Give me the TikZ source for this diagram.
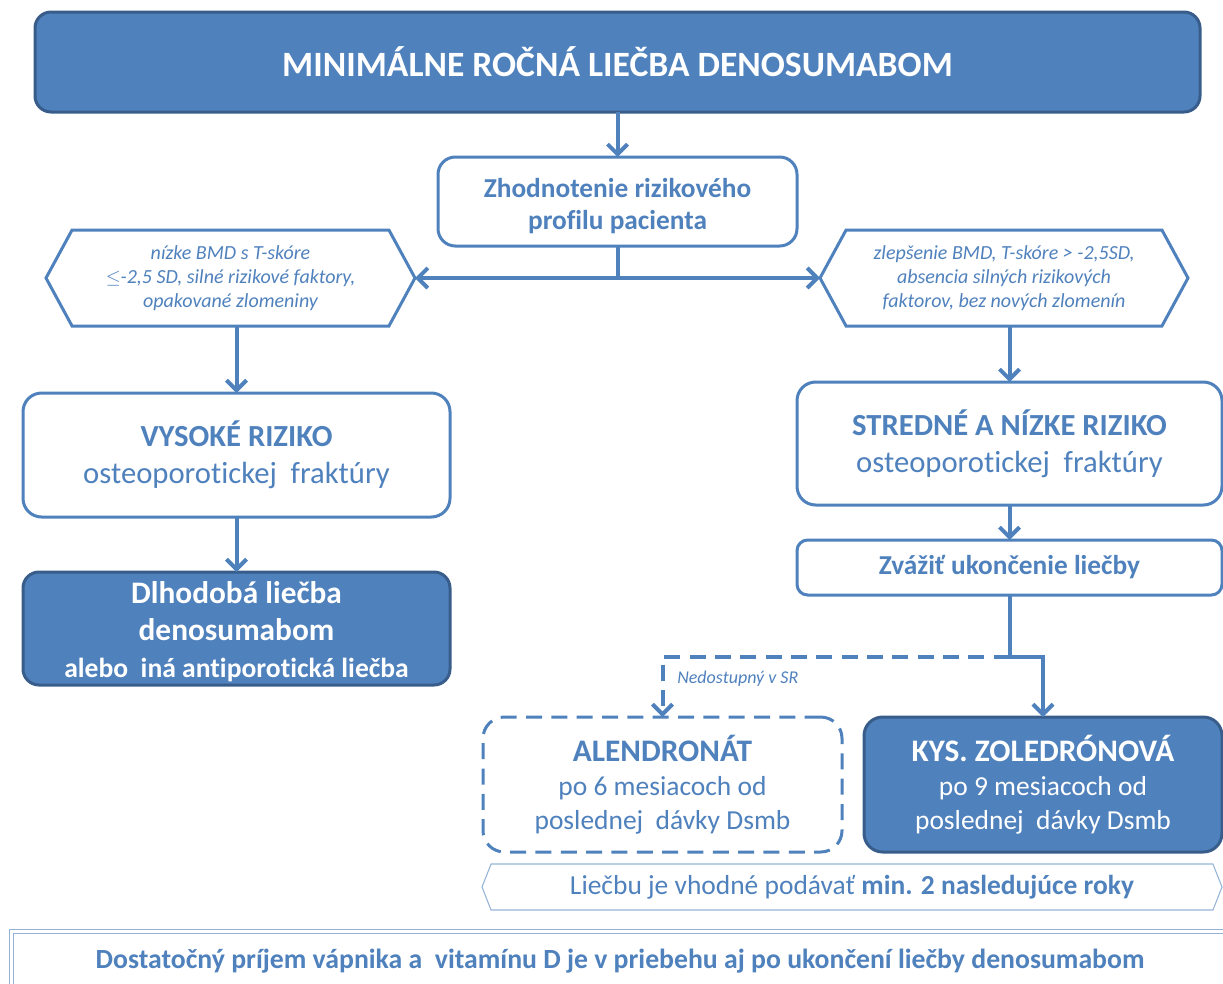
\documentclass[tikz,border=0pt]{standalone}
\usepackage{fontspec}
\setmainfont{Carlito}[Ligatures=NoCommon]
\usepackage{tikz}
\usetikzlibrary{arrows.meta,shapes.symbols,positioning}
\definecolor{rblue}{HTML}{4F81BD}
\definecolor{rdark}{HTML}{385D8A}
\definecolor{rlight}{HTML}{95B3D7}

\begin{document}
\begin{tikzpicture}[x=0.75pt, y=-0.75pt,
  filled/.style={draw=rdark, line width=2.25pt, fill=rblue, text=white, rounded corners=12pt, align=center, inner sep=0pt, outer sep=0pt},
  plain/.style={draw=rblue, line width=2.25pt, fill=white, text=rblue, rounded corners=13pt, align=center, inner sep=0pt, outer sep=0pt},
  hexa/.style={signal, signal to=west and east, draw=rblue, line width=2.25pt, text=rblue, align=center, inner sep=0pt, outer sep=0pt},
  flow/.style={draw=rblue, line width=3pt, -{Straight Barb[length=7.5pt,width=15pt]}},
  big/.style={font=\fontsize{23}{28}\selectfont},
  body/.style={font=\fontsize{20.6}{25.5}\selectfont}]
\useasboundingbox (0,0) rectangle (1223,983);
\clip (0,0) rectangle (1223,983);
\node[filled, minimum width=873.75pt, minimum height=75pt, font=\fontsize{26.7}{30}\selectfont\bfseries] (title) at (617.5,62) {MINIMÁLNE ROČNÁ LIEČBA DENOSUMABOM};
\node[plain, minimum width=269.25pt, minimum height=66.75pt, font=\fontsize{20.5}{24}\selectfont\bfseries] (profile) at (617.5,201.5) {\rule{0pt}{21pt}Zhodnotenie rizikového\\profilu pacienta};
\node[hexa, minimum width=276.75pt, minimum height=72pt, signal pointer angle=123, font=\fontsize{15}{18}\selectfont\itshape] (lowbmd) at (230.5,278) {nízke BMD s T-skóre\\$\leq$-2,5 SD, silné rizikové faktory,\\opakované zlomeniny};
\node[hexa, minimum width=276pt, minimum height=72pt, signal pointer angle=123, font=\fontsize{15}{18}\selectfont\itshape] (better) at (1004,278) {zlepšenie BMD, T-skóre > -2,5SD,\\absencia silných rizikových\\faktorov, bez nových zlomenín};
\node[plain, big, minimum width=320.25pt, minimum height=93pt, rounded corners=14pt] (high) at (236.5,455) {\textbf{VYSOKÉ RIZIKO}\\osteoporotickej~ fraktúry};
\node[filled, minimum width=320.25pt, minimum height=84.75pt, font=\fontsize{23.5}{27.5}\selectfont\bfseries] (longterm) at (236.5,628.5) {\rule{0pt}{21pt}Dlhodobá liečba\\denosumabom\\{\fontsize{20.7}{25}\selectfont alebo~ iná antiporotická liečba}};
\node[plain, big, minimum width=318.75pt, minimum height=92.25pt, rounded corners=14pt] (mid) at (1009.5,443.5) {\textbf{STREDNÉ A NÍZKE RIZIKO}\\osteoporotickej~ fraktúry};
\node[plain, minimum width=318.75pt, minimum height=41.25pt, rounded corners=8pt, font=\fontsize{20.5}{24}\selectfont\bfseries] (stop) at (1009.5,567.5) {Zvážiť ukončenie liečby};
\node[plain, body, dashed, dash pattern=on 12pt off 7pt, minimum width=269.25pt, minimum height=101.25pt, rounded corners=16pt] (alen) at (662.5,784.5) {{\fontsize{23.5}{28}\selectfont\bfseries ALENDRONÁT}\\po 6 mesiacoch od\\poslednej~ dávky Dsmb};
\node[filled, body, minimum width=268.5pt, minimum height=101.25pt, rounded corners=14pt] (zol) at (1043,784.5) {{\fontsize{23.5}{28}\selectfont\bfseries KYS. ZOLEDRÓNOVÁ}\\po 9 mesiacoch od\\poslednej~ dávky Dsmb};
\node[font=\fontsize{13.5}{15}\selectfont\itshape, text=rblue, anchor=west, inner sep=0pt] (na) at (677,679) {Nedostupný v SR};
\node[hexa, body, draw=rlight, line width=0.8pt, minimum width=555pt, minimum height=34.5pt, signal pointer angle=137] (years) at (852,887) {Liečbu je vhodné podávať \textbf{min. 2 nasledujúce roky}};
\node[draw=rlight, double=white, double distance=2pt, line width=0.8pt, fill=white, text=rblue, anchor=north west, minimum width=912.75pt, minimum height=45pt, font=\fontsize{20.8}{24}\selectfont\bfseries] (calcium) at (11,931) {Dostatočný príjem vápnika a~ vitamínu D je v priebehu aj po ukončení liečby denosumabom};
\coordinate (split) at (617.5,278);
\coordinate (fork) at (1009.5,657);
\draw[flow] (title) -- (profile);
\draw[rblue, line width=3pt] (profile) -- (split);
\draw[flow] (split) -- (lowbmd.east);
\draw[flow] (split) -- (better.west);
\draw[flow] (lowbmd.south -| high.north) -- (high.north);
\draw[flow] (high) -- (longterm);
\draw[flow] (better.south -| mid.north) -- (mid.north);
\draw[flow] (mid) -- (stop);
\draw[flow] (stop.south) -- (fork) -| (zol.north);
\draw[flow, dashed, dash pattern=on 12pt off 7pt] (fork) -| (alen.north);
\end{tikzpicture}
\end{document}
